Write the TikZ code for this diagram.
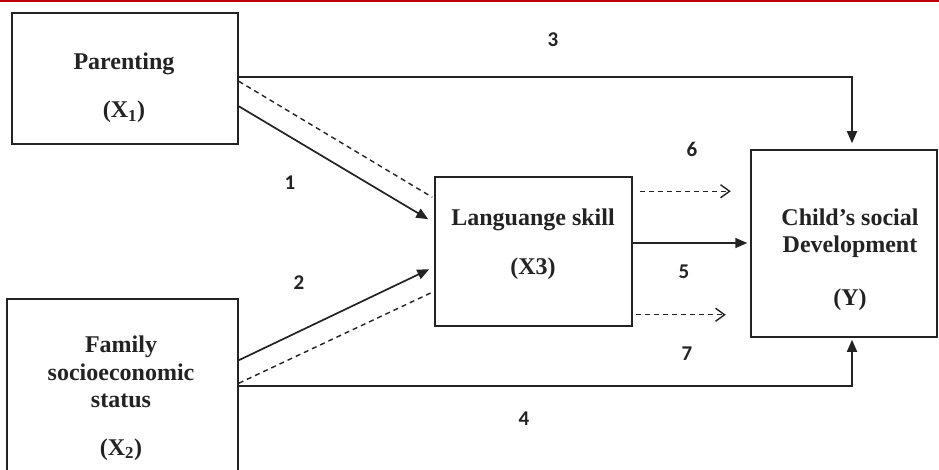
\documentclass[tikz,border=0pt]{standalone}
\usepackage{fontspec}
\setmainfont{Liberation Serif}
\newfontfamily\numfont{Carlito}
\usetikzlibrary{arrows.meta,calc}
\definecolor{topred}{RGB}{192,0,0}
\definecolor{ink}{RGB}{35,35,35}
\begin{document}
\begin{tikzpicture}[x=1pt,y=-1pt,
  box/.style={draw=ink, line width=1.5pt, inner sep=0pt},
  lbl/.style={font=\fontsize{24}{28}\selectfont\bfseries, anchor=base, inner sep=0pt, text=ink},
  num/.style={font=\numfont\fontsize{21}{24}\selectfont\bfseries, anchor=base, inner sep=0pt, text=ink},
  conn/.style={line width=1.7pt, draw=ink},
  arr/.style={conn, -{Triangle[length=12pt,width=10pt]}},
  dsh/.style={conn, line width=1.4pt, dash pattern=on 5pt off 4pt},
  darr/.style={dsh, -{Straight Barb[length=9pt,width=13pt]}}
]
\clip (0,0) rectangle (939,470);
\fill[white] (0,0) rectangle (939,470);
\draw[line width=2pt, draw=topred] (0,1) -- (939,1);

% boxes
\node[box, minimum width=226pt, minimum height=131pt] (par) at (125,78.5) {};
\node[box, minimum width=231pt, minimum height=181pt] (fam) at (122.5,389.5) {};
\node[box, minimum width=197pt, minimum height=149pt] (lang) at (533.5,251.5) {};
\node[box, minimum width=186pt, minimum height=187pt] (child) at (844,243.5) {};

% box texts
\node[lbl] (t1) at (124,70) {Parenting};
\node[lbl] (t2) at (124,118) {(X\textsubscript{1})};
\node[lbl] (t3) at (121,352) {Family};
\node[lbl] (t4) at (121,380) {socioeconomic};
\node[lbl] (t5) at (121,407) {status};
\node[lbl] (t6) at (121,455) {(X\textsubscript{2})};
\node[lbl] (t7) at (533,226) {Languange skill};
\node[lbl] (t8) at (533,275) {(X3)};
\node[lbl] (t9) at (850,226) {Child’s social};
\node[lbl] (t10) at (850,253) {Development};
\node[lbl] (t11) at (850,305) {(Y)};

% numbers
\node[num] (n3) at (553,47) {3};
\node[num] (n6) at (692,157) {6};
\node[num] (n1) at (290,190) {1};
\node[num] (n5) at (684,278) {5};
\node[num] (n2) at (299,289) {2};
\node[num] (n7) at (687,360) {7};
\node[num] (n4) at (524,425) {4};

% connectors
\draw[arr] ($(par.north east)+(0,65)$) -| ($(child.north)+(8,-6)$);
\draw[arr] ($(fam.north east)+(0,88)$) -| ($(child.south)+(8,2)$);
\draw[arr] ($(par.north east)+(0,94)$) -- ($(lang.north west)+(-6,43)$);
\draw[dsh] ($(par.north east)+(0,69)$) -- ($(lang.north west)+(-2,21)$);
\draw[arr] ($(fam.north east)+(0,62)$) -- ($(lang.north west)+(-5,93)$);
\draw[dsh] ($(fam.north east)+(0,85)$) -- ($(lang.north west)+(-2,116)$);
\draw[arr] ($(lang.east)+(0,-8.5)$) -- ($(child.west)+(-3,-0.5)$);
\draw[darr] ($(lang.north east)+(7,15)$) -- ($(lang.north east)+(98,15)$);
\draw[darr] ($(lang.south east)+(3,-12)$) -- ($(lang.south east)+(93,-12)$);
\end{tikzpicture}
\end{document}
